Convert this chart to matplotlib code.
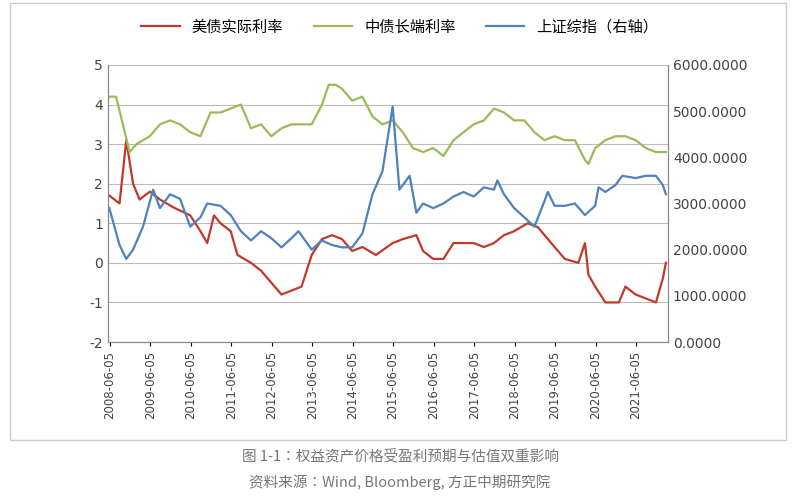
import matplotlib
matplotlib.use("Agg")
import matplotlib.pyplot as plt
from matplotlib import font_manager
import pandas as pd
from matplotlib.patches import Rectangle

cjk = sorted({f.name for f in font_manager.fontManager.ttflist if "Sans CJK" in f.name})
pref = [n for n in cjk if n.endswith("SC")] or cjk
plt.rcParams["font.family"] = ["DejaVu Sans"] + pref[:1]
plt.rcParams["axes.unicode_minus"] = False
cjkfont = pref[0] if pref else "DejaVu Sans"

us_dates = ["2008-06","2008-09","2008-11","2009-01","2009-03","2009-06","2009-09","2010-01","2010-06","2010-09","2010-11","2011-01","2011-03","2011-06","2011-08","2011-12","2012-03","2012-06","2012-09","2012-12","2013-03","2013-06","2013-09","2013-12","2014-03","2014-06","2014-09","2015-01","2015-06","2015-09","2016-01","2016-03","2016-06","2016-09","2016-12","2017-03","2017-06","2017-09","2017-12","2018-03","2018-06","2018-10","2019-01","2019-06","2019-09","2020-01","2020-03","2020-04","2020-06","2020-09","2021-01","2021-03","2021-06","2021-09","2021-12","2022-02","2022-03"]
us_real = [1.7,1.5,3.1,2.0,1.6,1.8,1.6,1.4,1.2,0.8,0.5,1.2,1.0,0.8,0.2,0.0,-0.2,-0.5,-0.8,-0.7,-0.6,0.2,0.6,0.7,0.6,0.3,0.4,0.2,0.5,0.6,0.7,0.3,0.1,0.1,0.5,0.5,0.5,0.4,0.5,0.7,0.8,1.0,0.9,0.4,0.1,0.0,0.5,-0.3,-0.6,-1.0,-1.0,-0.6,-0.8,-0.9,-1.0,-0.4,0.0]

cn_dates = ["2008-06","2008-08","2008-10","2008-12","2009-02","2009-06","2009-09","2009-12","2010-03","2010-06","2010-09","2010-12","2011-03","2011-06","2011-09","2011-12","2012-03","2012-06","2012-09","2012-12","2013-03","2013-06","2013-09","2013-11","2014-01","2014-03","2014-06","2014-09","2014-12","2015-03","2015-06","2015-09","2015-12","2016-03","2016-06","2016-09","2016-12","2017-03","2017-06","2017-09","2017-12","2018-03","2018-06","2018-09","2018-12","2019-03","2019-06","2019-09","2019-12","2020-03","2020-04","2020-06","2020-09","2020-12","2021-03","2021-06","2021-09","2021-12","2022-03"]
cn_10y = [4.2,4.2,3.5,2.8,3.0,3.2,3.5,3.6,3.5,3.3,3.2,3.8,3.8,3.9,4.0,3.4,3.5,3.2,3.4,3.5,3.5,3.5,4.0,4.5,4.5,4.4,4.1,4.2,3.7,3.5,3.6,3.3,2.9,2.8,2.9,2.7,3.1,3.3,3.5,3.6,3.9,3.8,3.6,3.6,3.3,3.1,3.2,3.1,3.1,2.6,2.5,2.9,3.1,3.2,3.2,3.1,2.9,2.8,2.8]

sh_dates = ["2008-06","2008-09","2008-11","2009-01","2009-04","2009-07","2009-09","2009-12","2010-03","2010-06","2010-09","2010-11","2011-03","2011-06","2011-09","2011-12","2012-03","2012-06","2012-09","2012-12","2013-02","2013-06","2013-09","2013-12","2014-03","2014-06","2014-09","2014-12","2015-03","2015-06","2015-08","2015-11","2016-01","2016-03","2016-06","2016-09","2016-12","2017-03","2017-06","2017-09","2017-12","2018-01","2018-03","2018-06","2018-09","2018-12","2019-03","2019-04","2019-06","2019-09","2019-12","2020-03","2020-06","2020-07","2020-09","2020-12","2021-02","2021-06","2021-09","2021-12","2022-02","2022-03"]
sh_index = [2900,2100,1800,2000,2500,3300,2900,3200,3100,2500,2700,3000,2950,2750,2400,2200,2400,2250,2050,2250,2400,2000,2200,2100,2050,2050,2350,3200,3700,5100,3300,3600,2800,3000,2900,3000,3150,3250,3150,3350,3300,3500,3200,2900,2700,2500,3050,3250,2950,2950,3000,2750,2950,3350,3250,3400,3600,3550,3600,3600,3400,3200]

tick_labels = [f"{y}-06-05" for y in range(2008, 2022)]

fig = plt.figure(figsize=(8, 5), dpi=100)
ax = fig.add_axes([0.135, 0.316, 0.7, 0.554])
ax2 = ax.twinx()

ax.plot(pd.to_datetime(us_dates), us_real, color="#c0392b", lw=1.6, label="美债实际利率")
ax.plot(pd.to_datetime(cn_dates), cn_10y, color="#9bbb59", lw=1.6, label="中债长端利率")
ax2.plot(pd.to_datetime(sh_dates), sh_index, color="#4f81bd", lw=1.6, label="上证综指（右轴）")

ax.set_ylim(-2, 5)
ax2.set_ylim(0, 6000)
ax.set_xlim(pd.Timestamp("2008-05-20"), pd.Timestamp("2022-03-20"))
ax.set_xticks(pd.to_datetime(tick_labels))
ax.set_xticklabels(tick_labels, rotation=90, fontsize=8.5, color="#444")
ax.set_yticks(range(-2, 6))
ax2.set_yticks(range(0, 6001, 1000))
ax2.set_yticklabels([f"{v:.4f}" for v in range(0, 6001, 1000)])
ax.tick_params(axis="y", labelsize=10, colors="#444", length=0)
ax2.tick_params(axis="y", labelsize=10, colors="#444", length=0)
ax.tick_params(axis="x", length=3)
ax.grid(axis="y", color="#bbbbbb", lw=0.8)
for a in (ax, ax2):
    a.spines["top"].set_visible(False)
    for s in ("left", "right", "bottom"):
        a.spines[s].set_color("#888")

h1, l1 = ax.get_legend_handles_labels()
h2, l2 = ax2.get_legend_handles_labels()
fig.legend(h1 + h2, l1 + l2, loc="upper center", bbox_to_anchor=(0.5, 0.99), ncol=3,
           frameon=False, prop={"family": cjkfont, "size": 11}, handlelength=2.5, columnspacing=2)

fig.patches.append(Rectangle((0.012, 0.12), 0.97, 0.875, transform=fig.transFigure,
                             fill=False, ec="#cccccc", lw=1))
fig.text(0.5, 0.08, "图 1-1：权益资产价格受盈利预期与估值双重影响", ha="center", fontsize=10.5, color="#777", family=cjkfont)
fig.text(0.5, 0.025, "资料来源：Wind, Bloomberg, 方正中期研究院", ha="center", fontsize=10.5, color="#777", family=cjkfont)

fig.savefig("out.png", dpi=100)
